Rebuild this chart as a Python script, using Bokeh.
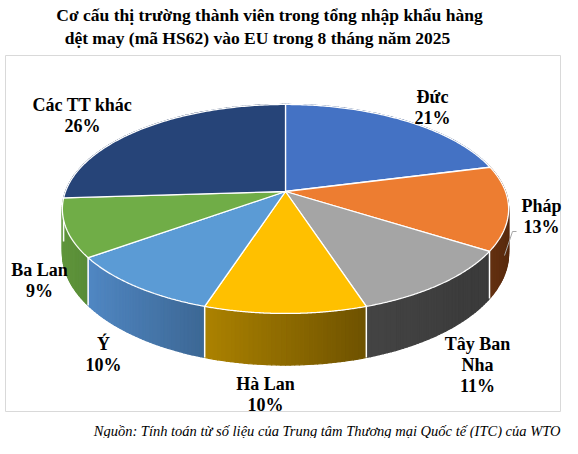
import numpy as np
from bokeh.plotting import figure
from bokeh.models import Range1d
from bokeh.core.properties import value
from bokeh.embed import file_html
from bokeh.resources import INLINE

# ---------------- data ----------------
categories = ["Đức", "Pháp", "Tây Ban Nha", "Hà Lan", "Ý", "Ba Lan", "Các TT khác"]
shares = [21, 13, 11, 10, 10, 9, 26]
name_lines = [["Đức"], ["Pháp"], ["Tây Ban", "Nha"], ["Hà Lan"], ["Ý"], ["Ba Lan"], ["Các TT khác"]]
title_lines = ["Cơ cấu thị trường thành viên trong tổng nhập khẩu hàng",
               "dệt may (mã HS62) vào EU trong 8 tháng năm 2025"]
source_text = "Nguồn: Tính toán từ số liệu của Trung tâm Thương mại Quốc tế (ITC) của WTO"

# ---------------- styles ----------------
top_colors = ["#4472C4", "#ED7D31", "#A5A5A5", "#FFC000", "#5B9BD5", "#70AD47", "#264478"]
wall_left = [(45, 80, 140), (100, 48, 16), (68, 68, 68), (172, 130, 0), (80, 135, 195), (96, 150, 60), (30, 55, 100)]
wall_right = [(40, 70, 125), (88, 42, 14), (58, 58, 58), (110, 82, 0), (60, 103, 148), (88, 140, 55), (25, 48, 90)]
label_pos = [(432, 96), (541, 205), (477, 343), (265, 383), (103, 343), (39, 269), (82, 104)]
LINE_H = 21

FONT = value("Liberation Serif")
CX, CY = 285.0, 191.0
RX, RY, K, DEPTH = 220.0, 101.6, 0.167, 43.0


def proj(phi_deg):
    phi = np.radians(phi_deg)
    u = np.sin(phi)
    v = -np.cos(phi)
    w = 1 - K * v
    return CX + RX * u / w, CY + RY * v / w, v, w


p = figure(width=562, height=438, x_range=Range1d(0, 562), y_range=Range1d(438, 0),
           output_backend="svg", toolbar_location=None, min_border=0)
p.axis.visible = False
p.grid.visible = False
p.outline_line_color = None
p.background_fill_color = "white"

# chart area box
p.quad(left=5, right=560, top=55, bottom=411, fill_color=None, line_color="#D9D9D9", line_width=1)

total = float(sum(shares))
bounds = [0.0]
for s in shares:
    bounds.append(bounds[-1] + s / total * 360.0)

# ---------------- walls ----------------
quads = []
for i in range(len(shares)):
    a0, a1 = bounds[i], bounds[i + 1]
    n = max(int((a1 - a0) / 1.0), 2)
    angs = np.linspace(a0, a1, n + 1)
    xs, ys, vs, ws = proj(angs)
    vis = vs > -0.05
    if vis.any():
        xmin, xmax = xs[vis].min(), xs[vis].max()
    else:
        xmin, xmax = xs.min(), xs.max()
    for j in range(n):
        x1, y1, w1 = xs[j], ys[j], ws[j]
        x2, y2, w2 = xs[j + 1], ys[j + 1], ws[j + 1]
        t = np.clip(((x1 + x2) / 2 - xmin) / max(xmax - xmin, 1e-6), 0, 1)
        c = tuple(int(round(wall_left[i][m] + (wall_right[i][m] - wall_left[i][m]) * t)) for m in range(3))
        col = "#%02x%02x%02x" % c
        quads.append(((vs[j] + vs[j + 1]) / 2,
                      [x1, x2, x2, x1],
                      [y1, y2, y2 + DEPTH / w2, y1 + DEPTH / w1], col))
quads.sort(key=lambda q: q[0])
p.patches([q[1] for q in quads], [q[2] for q in quads], fill_color=[q[3] for q in quads],
          line_color=[q[3] for q in quads], line_width=1.2, line_join="round")

# white seams on front wall
for b in bounds:
    x, y, v, w = proj(b)
    if v > 0.02:
        p.segment(x0=x, y0=y, x1=x, y1=y + DEPTH / w, line_color="white", line_width=1.5)

# ---------------- top faces ----------------
txs, tys = [], []
for i in range(len(shares)):
    angs = np.linspace(bounds[i], bounds[i + 1], 120)
    xs, ys, _, _ = proj(angs)
    txs.append([CX] + list(xs))
    tys.append([CY] + list(ys))
p.patches(txs, tys, fill_color=top_colors, line_color="white", line_width=1.3)

# leader line for Pháp
p.line([516, 512, 504], [231, 231, 255], line_color="#A6A6A6", line_width=1)

# ---------------- labels ----------------
lx, ly, lt = [], [], []
for i in range(len(shares)):
    lines = name_lines[i] + ["%d%%" % shares[i]]
    x0, y0 = label_pos[i]
    for j, t in enumerate(lines):
        lx.append(x0)
        ly.append(y0 + j * LINE_H)
        lt.append(t)
p.text(x=lx, y=ly, text=lt, text_font=FONT, text_font_style="bold", text_font_size="18px",
       text_align="center", text_baseline="middle", text_color="black")

# title
p.text(x=[269, 257], y=[14, 37], text=title_lines, text_font=FONT, text_font_style="bold",
       text_font_size="17.5px", text_align="center", text_baseline="middle", text_color="black")

# source
p.text(x=[560], y=[430], text=[source_text], text_font=FONT, text_font_style="italic",
       text_font_size="14.5px", text_align="right", text_baseline="middle", text_color="black")

open("out.html", "w").write(file_html(p, INLINE))
